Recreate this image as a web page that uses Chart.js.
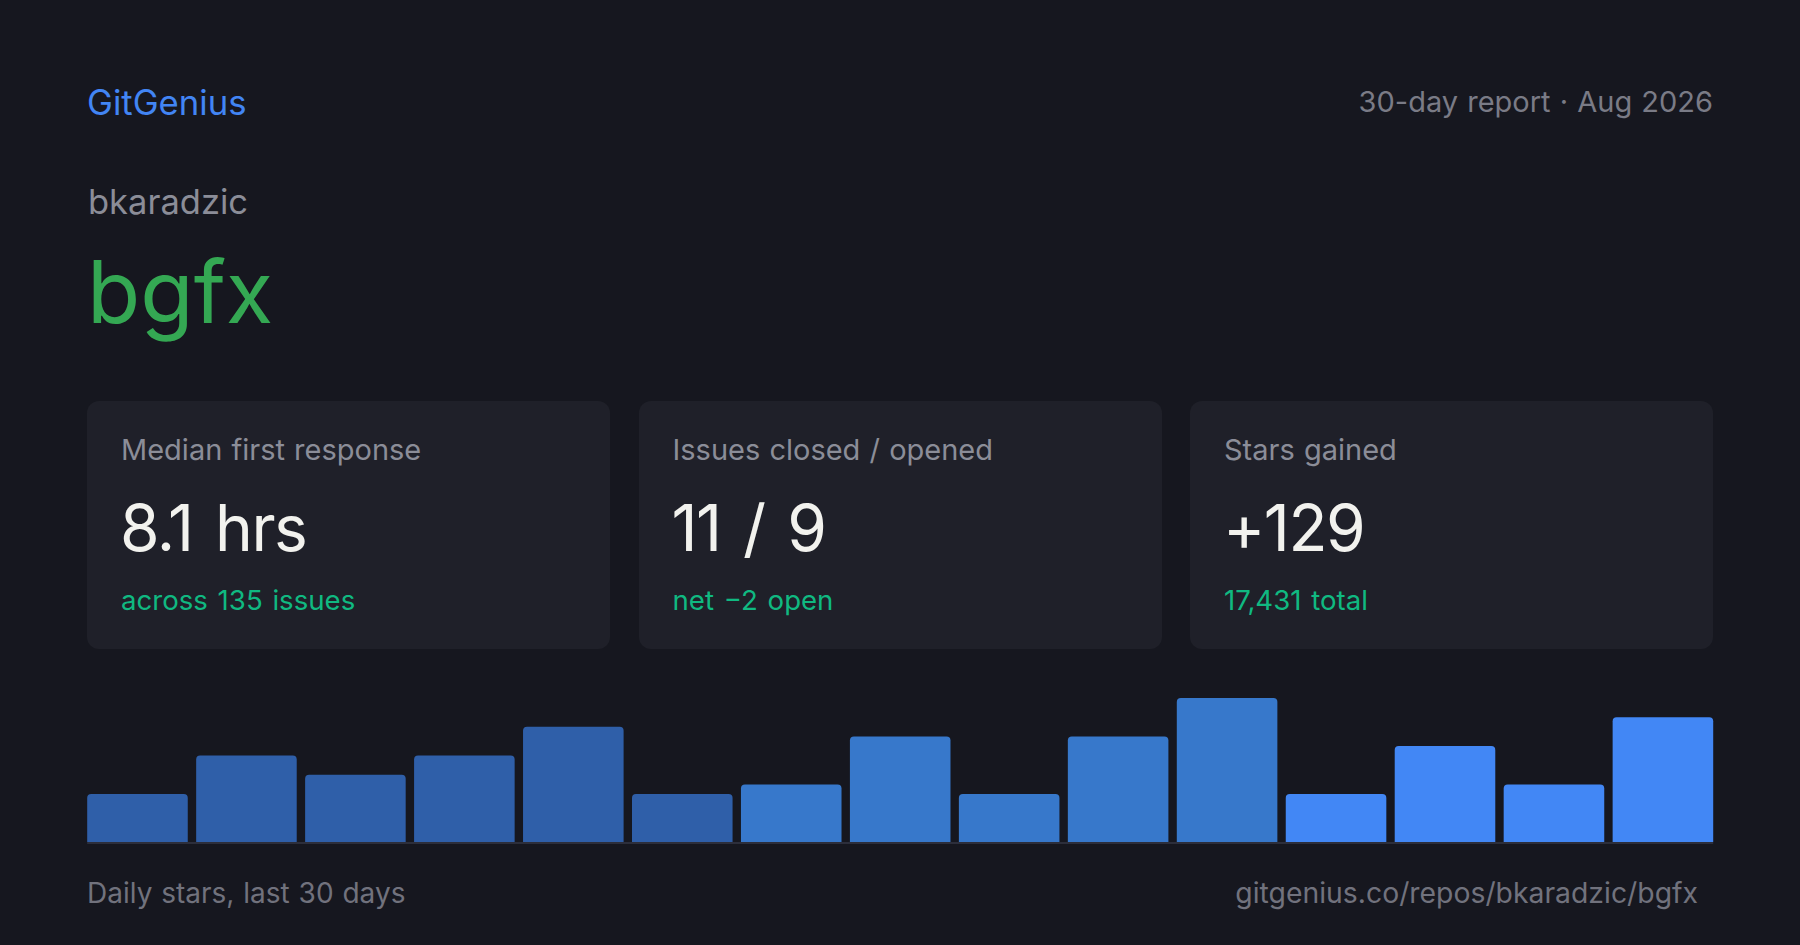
<!DOCTYPE html>
<html>
<head>
<meta charset="utf-8">
<script src="https://cdn.jsdelivr.net/npm/chart.js@4"></script>
<style>
  html, body { margin: 0; padding: 0; }
  body {
    width: 1800px; height: 945px; overflow: hidden;
    background: #16171f;
    font-family: Inter, "Noto Sans", sans-serif;
    position: relative;
  }
  .t { position: absolute; line-height: 1; white-space: nowrap; }
  #brand { left: 87px; top: 85px; font-size: 34.7px; color: #4285f4; }
  #period { right: 87px; top: 87px; font-size: 29px; color: #7a7b86; word-spacing: 1px; }
  #owner { left: 88px; top: 185px; font-size: 34.5px; color: #8b8d98; }
  #repo { left: 87px; top: 248px; font-size: 87px; color: #34a853; }
  .card {
    position: absolute; top: 401px; width: 523px; height: 248px;
    background: #1f2029; border-radius: 12px;
  }
  .card .lbl { left: 34px; top: 34px; font-size: 29px; color: #8b8d98; word-spacing: 1px; }
  .card .val { left: 33px; top: 95px; font-size: 64px; color: #f2f2ee; letter-spacing: -1.5px; word-spacing: 6px; }
  .card .sub { left: 34px; top: 186px; font-size: 27.6px; color: #10b981; word-spacing: 2px; }
  #chartBox { position: absolute; left: 82.8px; top: 698px; width: 1634.4px; height: 148px; }
  #footL { left: 87px; top: 879px; font-size: 28px; color: #71727d; word-spacing: 1px; }
  #footR { right: 102px; top: 879px; font-size: 28.35px; color: #71727d; }
</style>
</head>
<body>
<div class="t" id="brand">GitGenius</div>
<div class="t" id="period">30-day report · Aug 2026</div>
<div class="t" id="owner">bkaradzic</div>
<div class="t" id="repo">bgfx</div>
<div id="cards"></div>
<div id="chartBox"><canvas id="stars"></canvas></div>
<div class="t" id="footL">Daily stars, last 30 days</div>
<div class="t" id="footR">gitgenius.co/repos/bkaradzic/bgfx</div>

<script>
// 统计卡片
const cardLabels = ['Median first response', 'Issues closed / opened', 'Stars gained'];
const cardValues = ['8.1 hrs', '11 / 9', '+129'];
const cardNotes = ['across 135 issues', 'net −2 open', '17,431 total'];

// 每日星标（15 个柱）
const days = ['1', '2', '3', '4', '5', '6', '7', '8', '9', '10', '11', '12', '13', '14', '15'];
const stars = [5, 9, 7, 9, 12, 5, 6, 11, 5, 11, 15, 5, 10, 6, 13];

document.addEventListener('DOMContentLoaded', function() {
    // 渲染卡片
    const holder = document.getElementById('cards');
    cardLabels.forEach((label, i) => {
        const card = document.createElement('div');
        card.className = 'card';
        card.style.left = (87 + i * 551.5) + 'px';
        card.innerHTML =
            `<div class="t lbl">${label}</div>` +
            `<div class="t val">${cardValues[i]}</div>` +
            `<div class="t sub">${cardNotes[i]}</div>`;
        holder.appendChild(card);
    });

    // 柱子颜色按时间段变亮
    function barColor(i) {
        if (i < 6) return '#2f5fa9';
        if (i < 11) return '#3778cb';
        return '#4287f5';
    }

    // 底部基线
    const baseline = {
        id: 'baseline',
        afterDatasetsDraw(chart) {
            const bars = chart.getDatasetMeta(0).data;
            const first = bars[0], last = bars[bars.length - 1];
            const ctx = chart.ctx;
            ctx.save();
            ctx.strokeStyle = '#2c2e3b';
            ctx.lineWidth = 2;
            ctx.beginPath();
            ctx.moveTo(first.x - first.width / 2, chart.chartArea.bottom + 1);
            ctx.lineTo(last.x + last.width / 2, chart.chartArea.bottom + 1);
            ctx.stroke();
            ctx.restore();
        }
    };

    new Chart(document.getElementById('stars'), {
        type: 'bar',
        data: {
            labels: days,
            datasets: [{
                data: stars,
                backgroundColor: ctx => barColor(ctx.dataIndex),
                borderRadius: { topLeft: 4, topRight: 4 },
                borderSkipped: 'bottom',
                barPercentage: 0.923,
                categoryPercentage: 1
            }]
        },
        options: {
            responsive: true,
            maintainAspectRatio: false,
            animation: false,
            layout: { padding: { top: 0, bottom: 4, left: 0, right: 0 } },
            plugins: { legend: { display: false }, tooltip: { enabled: false } },
            scales: {
                x: { display: false },
                y: { display: false, min: 0, max: 15 }
            }
        },
        plugins: [baseline]
    });
});
</script>
</body>
</html>
